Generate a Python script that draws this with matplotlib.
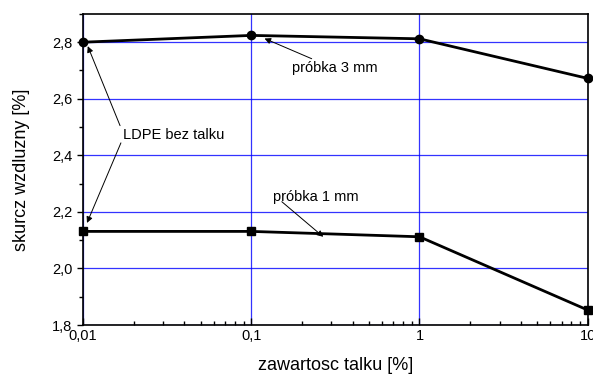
import numpy as np
import matplotlib.pyplot as plt
from matplotlib.ticker import FuncFormatter, MultipleLocator, LogLocator

plt.rcParams['font.family'] = ['Liberation Sans', 'DejaVu Sans']

talc = [0.01, 0.1, 1, 10]                 # zawartosc talku [%]
shrink_3mm = [2.80, 2.824, 2.812, 2.672]  # próbka 3 mm
shrink_1mm = [2.131, 2.131, 2.112, 1.853] # próbka 1 mm

fig = plt.figure(figsize=(5.93, 3.76), dpi=100)
ax = fig.add_axes([0.140, 0.1356, 0.851, 0.8274])

ax.plot(talc, shrink_3mm, color="black", lw=2, marker="o", ms=6, clip_on=False, zorder=3)
ax.plot(talc, shrink_1mm, color="black", lw=2, marker="s", ms=5.5, clip_on=False, zorder=3)

ax.set_xscale("log")
ax.set_xlim(0.01, 10)
ax.set_ylim(1.8, 2.9)

ax.yaxis.set_major_locator(MultipleLocator(0.2))
ax.yaxis.set_minor_locator(MultipleLocator(0.1))
ax.xaxis.set_major_locator(LogLocator(base=10))
ax.xaxis.set_minor_locator(LogLocator(base=10, subs=np.arange(2, 10)))

comma = lambda v, pos: f"{v:.1f}".replace(".", ",")
ax.yaxis.set_major_formatter(FuncFormatter(comma))
ax.xaxis.set_major_formatter(FuncFormatter(lambda v, pos: f"{v:g}".replace(".", ",")))
ax.xaxis.set_minor_formatter(FuncFormatter(lambda v, pos: ""))

ax.tick_params(axis="y", which="major", direction="out", length=4, width=1, labelsize=10.5)
ax.tick_params(axis="y", which="minor", direction="out", length=3, width=1)
ax.tick_params(axis="x", which="major", direction="in", length=5, width=1, labelsize=10.5, pad=3)
ax.tick_params(axis="x", which="minor", direction="in", length=3, width=1)

ax.grid(True, which="major", color="#0000ff", lw=0.9, alpha=0.8)
for s in ax.spines.values():
    s.set_linewidth(1.2)

ax.set_xlabel("zawartosc talku [%]", fontsize=13, labelpad=10)
ax.set_ylabel("skurcz wzdluzny [%]", fontsize=13, labelpad=16)

arrow = dict(arrowstyle="-|>", color="black", lw=0.7, mutation_scale=9, shrinkA=0, shrinkB=0)
ax.annotate("próbka 3 mm", xy=(0.12, 2.813), xytext=(0.174, 2.707),
            fontsize=10.5, va="center", arrowprops=arrow)
ax.annotate("próbka 1 mm", xy=(0.268, 2.112), xytext=(0.134, 2.254),
            fontsize=10.5, va="center")
ax.annotate("", xy=(0.268, 2.112), xytext=(0.152, 2.236), arrowprops=arrow)
ax.text(0.0173, 2.473, "LDPE bez talku", fontsize=10.5, va="center")
ax.annotate("", xy=(0.01067, 2.786), xytext=(0.0166, 2.505), arrowprops=arrow)
ax.annotate("", xy=(0.01056, 2.161), xytext=(0.0168, 2.444), arrowprops=arrow)

fig.savefig("out.png", dpi=100)
